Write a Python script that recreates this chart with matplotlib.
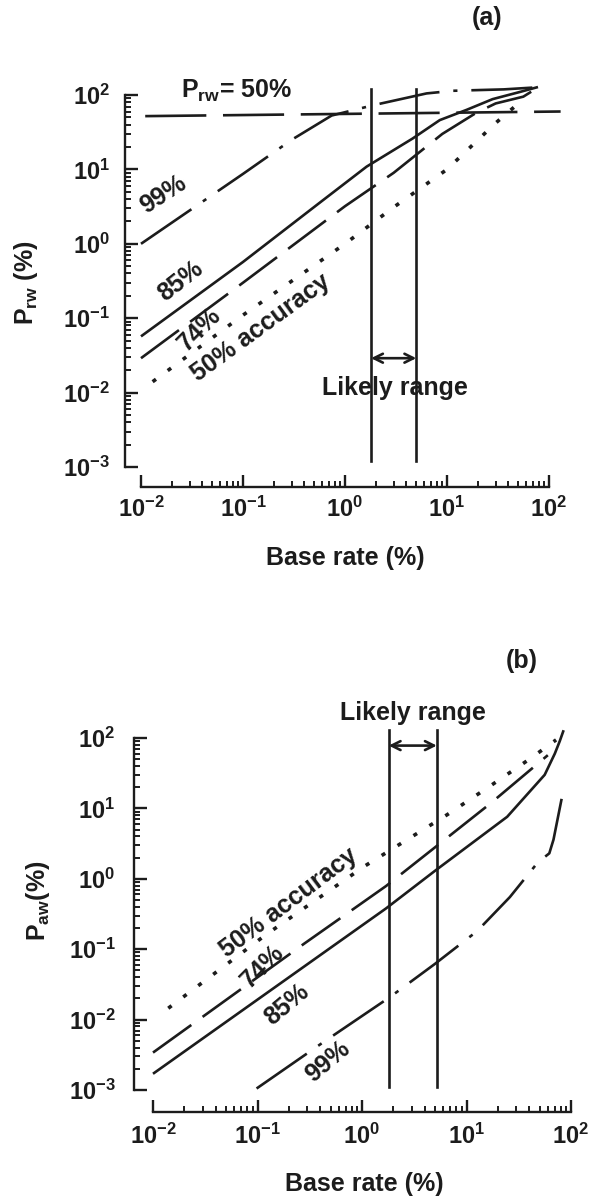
import math
import matplotlib
matplotlib.use("Agg")
import matplotlib.pyplot as plt
from matplotlib.ticker import LogLocator, FuncFormatter, NullFormatter

# ---------------- data ----------------
# Panel (a): P_rw (%) vs base rate (%)
a_acc99_x = [0.01, 0.1, 0.3, 0.74, 1.9, 6.3, 11.5, 36, 78]
a_acc99_y = [1.0, 8.7, 25, 53, 73, 105, 114, 119, 127]
a_acc85_x = [0.01, 0.1, 0.57, 1.63, 4.6, 8.5, 15.5, 28, 52, 78]
a_acc85_y = [0.057, 0.57, 3.6, 10.9, 26, 46, 63, 88, 110, 128]
a_acc74_x = [0.01, 0.1, 1, 3, 9, 19.5, 30, 56, 75]
a_acc74_y = [0.029, 0.3, 3.2, 9, 30, 58, 77, 95, 122]
a_acc50_x = [0.013, 0.1, 1, 3, 10, 30, 55]
a_acc50_y = [0.014, 0.11, 1.0, 3.1, 10, 42, 86]
a_prw50_x = [0.011, 130]
a_prw50_y = [52, 60]

# Panel (b): P_aw (%) vs base rate (%)
b_acc50_x = [0.014, 0.12, 1.05, 6.5, 17, 40, 72]
b_acc50_y = [0.0145, 0.16, 1.5, 8.1, 21, 50, 94]
b_acc74_x = [0.01, 0.28, 1.7, 5, 17, 60]
b_acc74_y = [0.0034, 0.12, 0.79, 2.8, 11.8, 57]
b_acc85_x = [0.01, 1.7, 5, 24.5, 56, 70, 78, 85]
b_acc85_y = [0.0017, 0.38, 1.3, 7.6, 30, 60, 90, 129]
b_acc99_x = [0.098, 0.42, 1.86, 5, 12.6, 26, 48, 62, 68, 85]
b_acc99_y = [0.00105, 0.0047, 0.021, 0.062, 0.18, 0.55, 1.7, 2.3, 3.6, 19]

likely_range_a = [1.8, 5.0]
likely_range_b = [1.8, 5.2]

x_ticks = [1e-2, 1e-1, 1e0, 1e1, 1e2]
y_ticks = [1e-3, 1e-2, 1e-1, 1e0, 1e1, 1e2]

# ---------------- style ----------------
plt.rcParams["font.family"] = ["Liberation Sans", "DejaVu Sans"]
plt.rcParams["font.weight"] = "bold"
plt.rcParams["mathtext.fontset"] = "custom"
plt.rcParams["mathtext.rm"] = "Liberation Sans:bold"
plt.rcParams["mathtext.it"] = "Liberation Sans:bold"
plt.rcParams["mathtext.bf"] = "Liberation Sans:bold"
plt.rcParams["mathtext.sf"] = "Liberation Sans:bold"
plt.rcParams["lines.scale_dashes"] = False

INK = "#1c1c1c"
LW = 1.9
FS_TICK = 17
FS = 18

STY_SOLID = "-"
STY_DASH = (0, (34, 10))
STY_DOT = (0, (3, 10.5))
STY_DASHDOT = (0, (44, 10, 3, 10))
STY_LONGDASH = (0, (44, 12))

fig = plt.figure(figsize=(5.95, 12.01), dpi=100)


def fmt(v, pos):
    e = int(round(math.log10(v)))
    return r"$10^{%d}$" % e


def style_axes(ax, ypad, xpad, yoff, xoff):
    ax.set_xscale("log")
    ax.set_yscale("log")
    ax.set_xlim(1e-2, 1e2)
    ax.set_ylim(1e-3, 1e2)
    for s in ("top", "right"):
        ax.spines[s].set_visible(False)
    ax.spines["left"].set_position(("outward", yoff))
    ax.spines["bottom"].set_position(("outward", xoff))
    ax.spines["left"].set_bounds(1e-3, 1e2)
    ax.spines["bottom"].set_bounds(1e-2, 1e2)
    for s in ("left", "bottom"):
        ax.spines[s].set_linewidth(1.7)
        ax.spines[s].set_color(INK)
    ax.xaxis.set_minor_locator(LogLocator(base=10, subs=range(2, 10), numticks=20))
    ax.yaxis.set_minor_locator(LogLocator(base=10, subs=range(2, 10), numticks=20))
    ax.set_xticks(x_ticks)
    ax.set_yticks(y_ticks)
    ax.xaxis.set_major_formatter(FuncFormatter(fmt))
    ax.yaxis.set_major_formatter(FuncFormatter(fmt))
    ax.xaxis.set_minor_formatter(NullFormatter())
    ax.yaxis.set_minor_formatter(NullFormatter())
    ax.tick_params(axis="both", which="major", direction="in", length=9,
                   width=1.7, color=INK, labelsize=FS_TICK, labelcolor=INK)
    ax.tick_params(axis="both", which="minor", direction="in", length=4.5,
                   width=1.4, color=INK)
    ax.tick_params(axis="y", which="major", pad=ypad)
    ax.tick_params(axis="x", which="major", pad=xpad)
    ax.patch.set_visible(False)


def curve(ax, x, y, ls, lw=LW):
    ax.plot(x, y, color=INK, lw=lw, linestyle=ls, clip_on=False,
            solid_capstyle="butt", dash_capstyle="butt")


# ---------------- panel (a) ----------------
axa = fig.add_axes([141 / 595, 1 - 467 / 1201, 408 / 595, 372 / 1201])
style_axes(axa, ypad=11, xpad=7, yoff=11.5, xoff=14.5)

curve(axa, a_prw50_x, a_prw50_y, STY_LONGDASH)
curve(axa, a_acc99_x, a_acc99_y, STY_DASHDOT)
curve(axa, a_acc85_x, a_acc85_y, STY_SOLID)
curve(axa, a_acc74_x, a_acc74_y, STY_DASH)
curve(axa, a_acc50_x, a_acc50_y, STY_DOT, lw=2.6)

for xv in likely_range_a:
    axa.plot([xv, xv], [0.0012, 119], color=INK, lw=1.9, clip_on=False)
axa.annotate("", xy=(likely_range_a[1], 0.029), xytext=(likely_range_a[0], 0.029),
             arrowprops=dict(arrowstyle="<->", lw=1.9, color=INK,
                             mutation_scale=16, shrinkA=0, shrinkB=0))
axa.text(3.06, 0.0116, "Likely range", fontsize=FS, color=INK,
         ha="center", va="center")

axa.text(0.086, 113, r"P$_{\mathregular{rw}}$= 50%", fontsize=FS, color=INK,
         ha="center", va="center")
axa.text(0.0167, 4.6, "99%", fontsize=FS, color=INK, ha="center", va="center",
         rotation=33)
axa.text(0.0245, 0.316, "85%", fontsize=FS, color=INK, ha="center", va="center",
         rotation=38)
axa.text(0.038, 0.071, "74%", fontsize=FS, color=INK, ha="center", va="center",
         rotation=45)
axa.text(0.15, 0.075, "50% accuracy", fontsize=FS, color=INK, ha="center",
         va="center", rotation=36)

fig.text(487 / 595, 1 - 18 / 1201, "(a)", fontsize=FS, color=INK,
         ha="center", va="center")
fig.text(26 / 595, 1 - 283 / 1201, r"P$_{\mathregular{rw}}$ (%)", fontsize=FS,
         color=INK, ha="center", va="center", rotation=90)
fig.text(345 / 595, 1 - 558 / 1201, "Base rate (%)", fontsize=FS, color=INK,
         ha="center", va="center")

# ---------------- panel (b) ----------------
axb = fig.add_axes([153 / 595, 1 - 1090 / 1201, 418 / 595, 352 / 1201])
style_axes(axb, ypad=13, xpad=8, yoff=14, xoff=16)

curve(axb, b_acc50_x, b_acc50_y, STY_DOT, lw=2.6)
curve(axb, b_acc74_x, b_acc74_y, STY_DASH)
curve(axb, b_acc85_x, b_acc85_y, STY_SOLID)
curve(axb, b_acc99_x, b_acc99_y, STY_DASHDOT)

for xv in likely_range_b:
    axb.plot([xv, xv], [0.0011, 129], color=INK, lw=1.9, clip_on=False)
axb.annotate("", xy=(likely_range_b[1], 78), xytext=(likely_range_b[0], 78),
             arrowprops=dict(arrowstyle="<->", lw=1.9, color=INK,
                             mutation_scale=16, shrinkA=0, shrinkB=0),
             annotation_clip=False)
axb.text(3.06, 226, "Likely range", fontsize=FS, color=INK,
         ha="center", va="center", clip_on=False)

axb.text(0.198, 0.455, "50% accuracy", fontsize=FS, color=INK, ha="center",
         va="center", rotation=37)
axb.text(0.111, 0.0575, "74%", fontsize=FS, color=INK, ha="center",
         va="center", rotation=45)
axb.text(0.19, 0.0164, "85%", fontsize=FS, color=INK, ha="center",
         va="center", rotation=40)
axb.text(0.474, 0.0025, "99%", fontsize=FS, color=INK, ha="center",
         va="center", rotation=40)

fig.text(522 / 595, 1 - 661 / 1201, "(b)", fontsize=FS, color=INK,
         ha="center", va="center")
fig.text(38 / 595, 1 - 901 / 1201, r"P$_{\mathregular{aw}}$(%)", fontsize=FS,
         color=INK, ha="center", va="center", rotation=90)
fig.text(364 / 595, 1 - 1184 / 1201, "Base rate (%)", fontsize=FS, color=INK,
         ha="center", va="center")

fig.savefig("out.png", dpi=100, facecolor="white")
